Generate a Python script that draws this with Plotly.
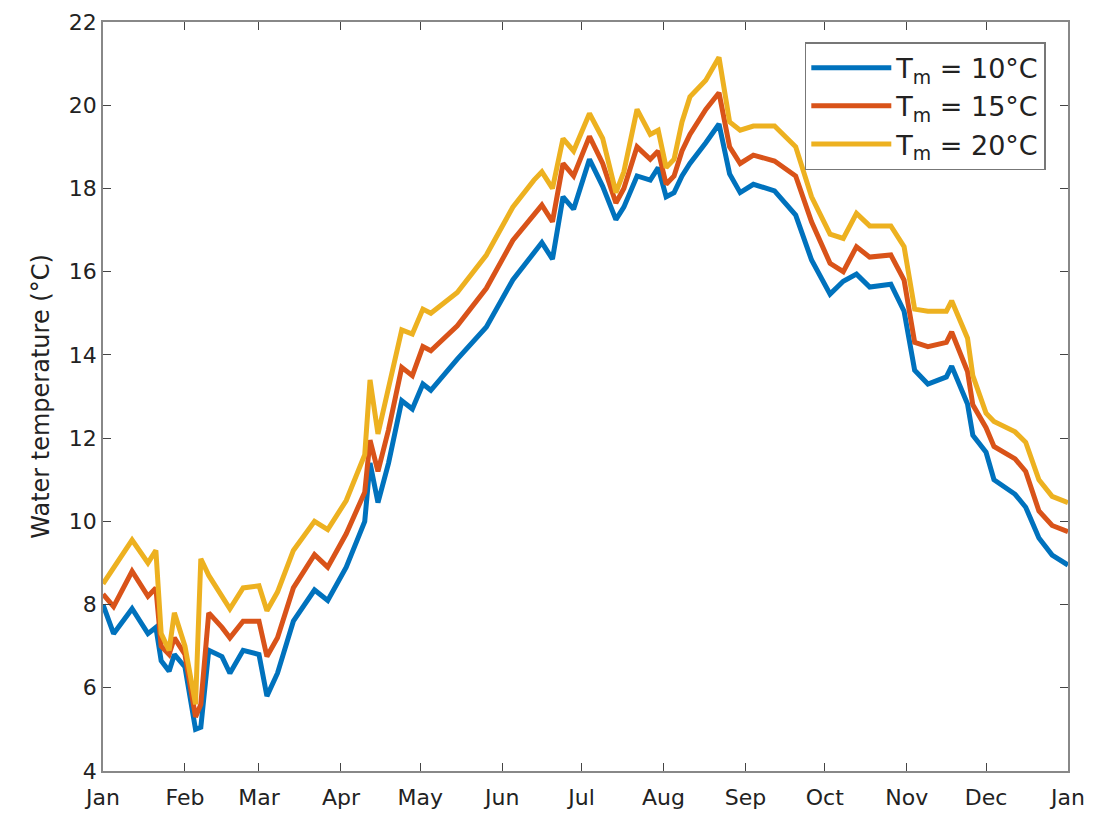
import plotly.graph_objects as go

days = [0,4,11,17,20,22,25,27,31,35,37,40,45,48,53,59,62,66,72,80,85,92,99,101,104,108,113,117,121,124,134,145,155,163,166,170,174,178,184,189,194,197,202,207,210,213,216,219,222,228,233,237,241,246,254,262,268,275,280,285,290,298,303,307,312,319,321,327,329,334,337,345,349,354,359,365]

t10 = [8.0,7.3,7.9,7.3,7.45,6.65,6.4,6.8,6.5,5.0,5.05,6.9,6.75,6.35,6.9,6.8,5.8,6.35,7.6,8.35,8.1,8.9,10.0,11.4,10.45,11.4,12.9,12.7,13.3,13.15,13.9,14.67,15.8,16.45,16.7,16.3,17.8,17.5,18.7,18.05,17.25,17.55,18.3,18.2,18.5,17.8,17.9,18.3,18.6,19.1,19.55,18.35,17.9,18.1,17.94,17.36,16.28,15.46,15.77,15.94,15.63,15.7,15.05,13.63,13.3,13.47,13.73,12.82,12.07,11.66,11.0,10.65,10.34,9.6,9.19,8.95]

t15 = [8.25,7.95,8.8,8.2,8.4,7.0,6.8,7.2,6.8,5.3,5.6,7.8,7.45,7.2,7.6,7.6,6.75,7.2,8.4,9.2,8.9,9.7,10.7,11.95,11.2,12.2,13.7,13.5,14.2,14.1,14.7,15.6,16.75,17.4,17.6,17.2,18.6,18.3,19.25,18.6,17.65,18.0,19.0,18.7,18.9,18.1,18.3,18.9,19.3,19.9,20.3,19.0,18.6,18.8,18.66,18.3,17.2,16.2,16.0,16.6,16.35,16.4,15.8,14.3,14.2,14.3,14.55,13.6,12.8,12.25,11.8,11.5,11.2,10.25,9.9,9.75]

t20 = [8.5,8.9,9.55,9.0,9.3,7.3,6.9,7.8,7.0,5.6,9.1,8.7,8.2,7.9,8.4,8.45,7.85,8.3,9.3,10.0,9.8,10.5,11.6,13.4,12.1,13.2,14.6,14.5,15.1,15.0,15.5,16.4,17.55,18.2,18.4,18.0,19.2,18.9,19.8,19.2,17.9,18.4,19.9,19.3,19.4,18.5,18.7,19.6,20.2,20.6,21.15,19.6,19.4,19.5,19.5,19.0,17.8,16.9,16.8,17.4,17.1,17.1,16.6,15.1,15.05,15.05,15.3,14.4,13.5,12.6,12.4,12.15,11.9,11.0,10.6,10.45]

month_days = [0,31,59,90,120,151,181,212,243,273,304,334,365]
month_labels = ["Jan","Feb","Mar","Apr","May","Jun","Jul","Aug","Sep","Oct","Nov","Dec","Jan"]

series = [("T<sub>m</sub> = 10°C", t10, "#0072BD"),
          ("T<sub>m</sub> = 15°C", t15, "#D95319"),
          ("T<sub>m</sub> = 20°C", t20, "#EDB120")]

fig = go.Figure()
for name, vals, col in series:
    fig.add_trace(go.Scatter(x=days, y=vals, mode="lines", name=name,
                             line=dict(color=col, width=5)))

axis_common = dict(showgrid=False, zeroline=False, showline=True, linecolor="#888",
                   linewidth=1.5, mirror="ticks", ticks="inside", ticklen=8,
                   tickcolor="#444", tickfont=dict(size=22, color="#222"),
                   automargin=False)
fig.update_xaxes(range=[0, 365], tickvals=month_days, ticktext=month_labels,
                 ticklabelstandoff=6, **axis_common)
fig.update_yaxes(range=[4, 22], dtick=2, title=dict(text="Water temperature (°C)",
                 font=dict(size=24, color="#222"), standoff=12), **axis_common)
fig.update_layout(width=1097, height=824, plot_bgcolor="white", paper_bgcolor="white",
                  font=dict(family="DejaVu Sans"),
                  margin=dict(l=95, r=37, t=14, b=61),
                  legend=dict(x=0.977, y=0.973, xanchor="right", yanchor="top",
                              bordercolor="#777", borderwidth=1.5, bgcolor="white",
                              itemwidth=80, tracegroupgap=14,
                              font=dict(size=27, color="#222")))
fig.write_html("out.html")
